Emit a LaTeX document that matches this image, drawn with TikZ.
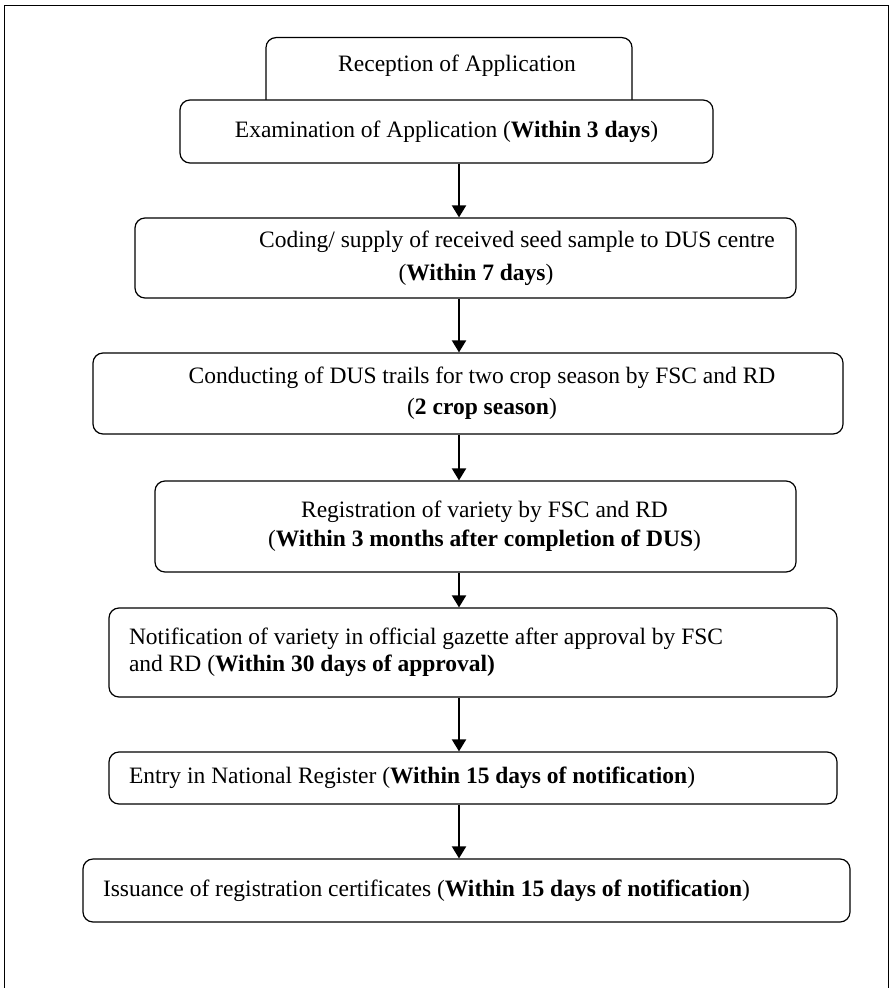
\documentclass[tikz,border=0pt]{standalone}
\usepackage{fontspec}
\setmainfont{Liberation Serif}
\usetikzlibrary{arrows.meta}

\begin{document}
\begin{tikzpicture}[x=0.5pt,y=-0.5pt,
  etape/.style={draw,line width=0.6pt,rounded corners=5pt,fill=white,
    inner sep=0pt,align=flush center,font=\fontsize{11.75}{13.5}\selectfont},
  gauche/.style={etape,align=flush left,inner xsep=10pt},
  fleche/.style={line width=1pt,-{Triangle[width=7pt,length=6pt]}}]
\useasboundingbox (0,0) rectangle (893,988);
\draw[line width=0.5pt] (4.5,988) -- (4.5,6) -- (888,6) -- (888,988);
% le cadre du haut passe sous le suivant
\node[etape,minimum width=183pt,text height=8pt,text depth=30pt,inner ysep=9pt,anchor=north] (rec) at (449,37) {\hspace*{8pt}Reception of Application};
\node[etape,minimum width=266.5pt,minimum height=31.5pt] (exa) at (446.5,131.5) {Examination of Application (\textbf{Within 3 days})};
\node[etape,minimum width=330.5pt,minimum height=40pt] (cod) at (465.5,258) {\hspace*{51.5pt}Coding/ supply of received seed sample to DUS centre\\[3pt]\hspace*{10.5pt}(\textbf{Within 7 days})};
\node[etape,minimum width=375pt,minimum height=40.5pt] (con) at (468,393.5) {\hspace*{14pt}Conducting of DUS trails for two crop season by FSC and RD\\[2pt]\hspace*{14pt}(\textbf{2 crop season})};
\node[etape,minimum width=320.5pt,minimum height=45.5pt] (reg) at (475.5,526.5) {\hspace*{9pt}Registration of variety by FSC and RD\\[1pt]\hspace*{9pt}(\textbf{Within 3 months after completion of DUS})};
\node[gauche,text width=344pt,minimum height=44.5pt] (notif) at (473,652.5) {Notification of variety in official gazette after approval by FSC\\and RD (\textbf{Within 30 days of approval)}};
\node[gauche,text width=344pt,minimum height=26pt] (ent) at (473,778) {Entry in National Register (\textbf{Within 15 days of notification})};
\node[gauche,text width=363.5pt,minimum height=31.5pt] (iss) at (466.5,890.5) {Issuance of registration certificates (\textbf{Within 15 days of notification})};
\coordinate (axe) at (459,0);
\draw[fleche] (exa.south -| axe) -- (cod.north -| axe);
\draw[fleche] (cod.south -| axe) -- (con.north -| axe);
\draw[fleche] (con.south -| axe) -- (reg.north -| axe);
\draw[fleche] (reg.south -| axe) -- (notif.north -| axe);
\draw[fleche] (notif.south -| axe) -- (ent.north -| axe);
\draw[fleche] (ent.south -| axe) -- (iss.north -| axe);
\end{tikzpicture}
\end{document}
